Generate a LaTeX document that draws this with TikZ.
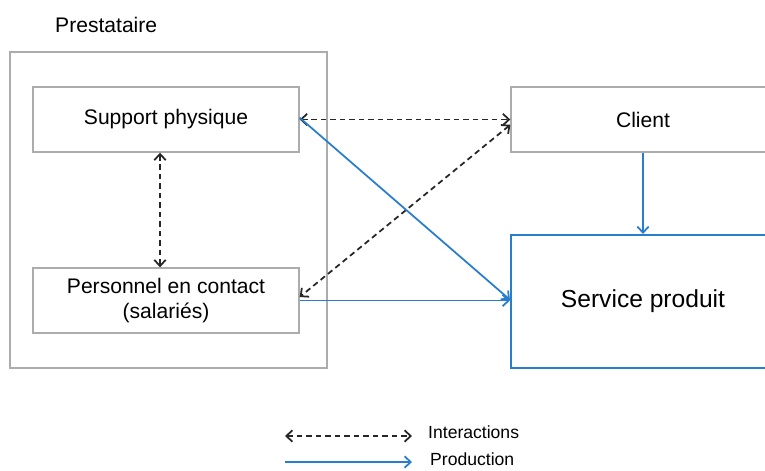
\documentclass[tikz,border=0pt]{standalone}
\usepackage{fontspec}
\setmainfont{Liberation Sans}
\usepackage{tikz}
\usetikzlibrary{arrows.meta,positioning}
\definecolor{prodblue}{RGB}{40,125,205}
\tikzstyle{cadre} = [draw=gray!65, line width=0.8pt, rectangle,
minimum height=1.3cm, minimum width=5.32cm, font=\fontsize{12}{14}\selectfont]
\tikzstyle{service} = [draw=prodblue, line width=1.2pt, rectangle,
minimum height=2.66cm, minimum width=5.28cm, font=\fontsize{14}{16}\selectfont]
\tikzstyle{inter} = [<->, dashed, dash pattern=on 3.2pt off 2.2pt, line width=1pt, draw=black!85]
\tikzstyle{prod} = [->, draw=prodblue, line width=1pt]

\begin{document}
\begin{tikzpicture}[>={Straight Barb[length=3.5pt,width=6.5pt]}]
\useasboundingbox (0,0) rectangle (15.3,-9.4);

\node [anchor=west,font=\fontsize{12}{14}\selectfont] (titre) at (0.98,-0.5) {Prestataire};
\node [cadre, minimum width=6.34cm, minimum height=6.32cm] (prest) at (3.37,-4.2) {};

\node [cadre] (sup) at (3.32,-2.39) {Support physique};
\node [cadre,align=center] (pers) at (3.32,-6.01) {Personnel en contact\\(salariés)};
\node [cadre, minimum width=5.28cm] (client) at (12.86,-2.39) {Client};
\node [service] (serv) at (12.86,-6.03) {Service produit};

% interactions
\draw [inter] (sup.east) -- (client.west);
\draw [inter] ([yshift=-3pt]client.west) -- ([yshift=2pt]pers.east);
\draw [inter] ([xshift=-0.12cm]sup.south) -- ([xshift=-0.12cm]pers.north);

% production
\draw [prod] ([yshift=1pt]sup.east) -- ([yshift=1pt]serv.west);
\draw [prod] (pers.east) -- (pers.east -| serv.west);
\draw [prod] (client.south) -- (serv.north);

% legende
\coordinate (i1) at (5.7,-8.72);
\coordinate (i2) at (8.24,-8.72);
\coordinate (p1) at (5.7,-9.24);
\coordinate (p2) at (8.24,-9.24);
\draw [inter] (i1) -- (i2);
\draw [prod] (p1) -- (p2);
\node [anchor=west,font=\fontsize{10}{12}\selectfont] (linter) at (8.44,-8.65) {Interactions};
\node [anchor=west,font=\fontsize{10}{12}\selectfont] (lprod) at (8.48,-9.18) {Production};
\end{tikzpicture}
\end{document}
